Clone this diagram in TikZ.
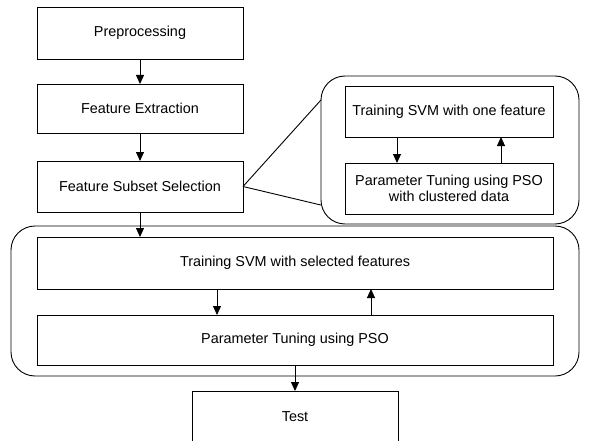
\documentclass[tikz,border=0pt]{standalone}
\usepackage{fontspec}
\setmainfont{Liberation Sans}
\usetikzlibrary{arrows.meta,calc}
\begin{document}
\begin{tikzpicture}[x=1pt,y=-1pt,
  box/.style={draw, line width=0.9pt, inner sep=0pt, outer sep=0pt,
    font=\fontsize{14.4}{16.5}\selectfont, align=center},
  rbox/.style={draw, line width=0.9pt, rounded corners=24pt, inner sep=0pt, outer sep=0pt},
  arr/.style={line width=0.9pt, -{Triangle[length=9pt,width=8pt]}},
  link/.style={line width=0.9pt}]
\useasboundingbox (0,0) rectangle (591,441);
% group frames
\node[rbox, minimum width=258pt, minimum height=148pt] (zoom) at (450,150) {};
\node[rbox, minimum width=568pt, minimum height=150pt] (group) at (295,301) {};
% main column
\node[box, minimum width=206pt, minimum height=52pt] (pre) at (140,33) {Preprocessing};
\node[box, minimum width=206pt, minimum height=49pt] (fe) at (140,108.5) {Feature Extraction};
\node[box, minimum width=206pt, minimum height=51pt] (fss) at (140,186.5) {Feature Subset Selection};
% zoomed detail
\node[box, minimum width=208pt, minimum height=51pt] (tone) at (449,111.5) {Training SVM with one feature};
\node[box, minimum width=208pt, minimum height=51pt] (ptc) at (449,188.5) {Parameter Tuning using PSO\\with clustered data};
% lower group
\node[box, minimum width=516pt, minimum height=52pt] (tsel) at (295,263) {Training SVM with selected features};
\node[box, minimum width=516pt, minimum height=50pt] (pt) at (295,340) {Parameter Tuning using PSO};
\node[box, minimum width=206pt, minimum height=52pt] (test) at (295,417) {Test};
% connectors
\draw[arr] (pre) -- (fe);
\draw[arr] (fe) -- (fss);
\draw[arr] (fss.south) -- (fss.south |- tsel.north);
\draw[arr] ([xshift=-78pt]tsel.south) -- ([xshift=-78pt]pt.north);
\draw[arr] ([xshift=76pt]pt.north) -- ([xshift=76pt]tsel.south);
\draw[arr] (pt) -- (test);
\draw[arr] ([xshift=-52pt]tone.south) -- ([xshift=-52pt]ptc.north);
\draw[arr] ([xshift=52pt]ptc.north) -- ([xshift=52pt]tone.south);
\draw[link] (fss.east) -- ($(zoom.north west)!0.162!(zoom.south west)$);
\draw[link] (fss.east) -- ($(zoom.north west)!0.872!(zoom.south west)$);
\end{tikzpicture}
\end{document}
